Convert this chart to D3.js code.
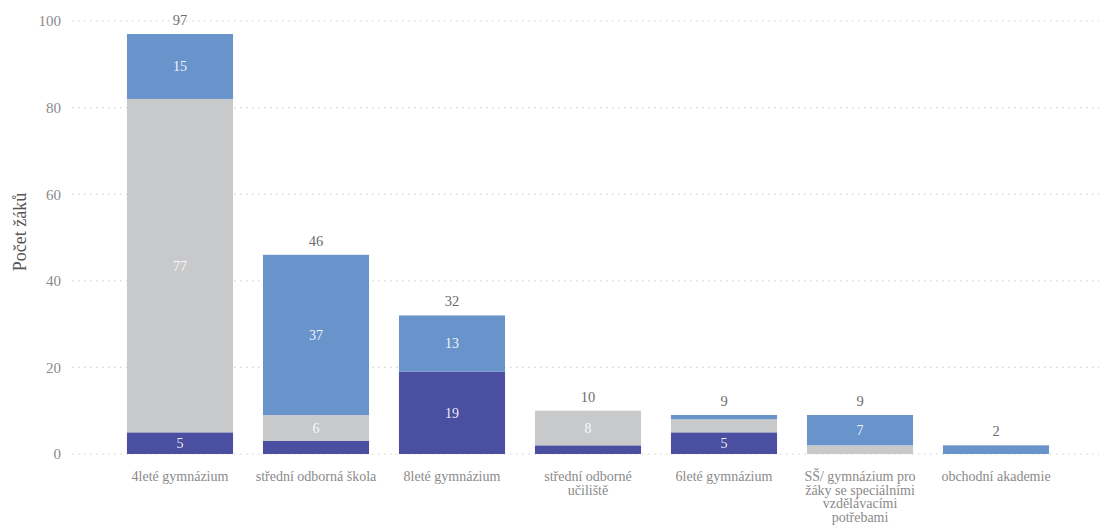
<!DOCTYPE html>
<html>
<head>
<meta charset="utf-8">
<script src="https://cdn.jsdelivr.net/npm/d3@7"></script>
<style>
  html, body { margin: 0; padding: 0; background: #fff; }
  svg { display: block; font-family: "Liberation Serif", "DejaVu Serif", serif; }
  svg text { font-family: "Liberation Serif", "DejaVu Serif", serif; }
</style>
</head>
<body>
<svg id="chart" width="1099" height="530"></svg>
<script>
// School types (each entry is the list of label lines under the bar)
const categories = [
  ["4leté gymnázium"],
  ["střední odborná škola"],
  ["8leté gymnázium"],
  ["střední odborné", "učiliště"],
  ["6leté gymnázium"],
  ["SŠ/ gymnázium pro", "žáky se speciálními", "vzdělávacími", "potřebami"],
  ["obchodní akademie"]
];

// Stacked series, bottom to top
const lowerValues  = [5, 3, 19, 2, 5, 0, 0];
const middleValues = [77, 6, 0, 8, 3, 2, 0];
const upperValues  = [15, 37, 13, 0, 1, 7, 2];

const seriesKeys   = ["lower", "middle", "upper"];
const seriesColors = ["#4b4fa2", "#c8c9cb", "#6993cb"];

const yTicks = [0, 20, 40, 60, 80, 100];
const yTitle = "Počet žáků";

// Build rows for d3.stack
const rows = categories.map((c, i) => ({
  idx: i,
  lower: lowerValues[i],
  middle: middleValues[i],
  upper: upperValues[i]
}));
const totals = rows.map(r => r.lower + r.middle + r.upper);

const svg = d3.select("#chart");
const gridLeft = 72, gridRight = 1099;
const x = d3.scaleBand()
  .domain(d3.range(categories.length))
  .range([112, 1064])
  .paddingInner(0.22)
  .paddingOuter(0.11);
const y = d3.scaleLinear().domain([0, 100]).range([454, 21]);

// Dotted horizontal grid
svg.append("g")
  .selectAll("line")
  .data(yTicks)
  .join("line")
  .attr("x1", gridLeft)
  .attr("x2", gridRight)
  .attr("y1", d => y(d))
  .attr("y2", d => y(d))
  .attr("stroke", "#d4d4d4")
  .attr("stroke-width", 1.2)
  .attr("stroke-dasharray", "1.5,4.5");

// Y axis tick labels
const yAxis = d3.axisLeft(y).tickValues(yTicks).tickSize(0).tickPadding(0);
const gy = svg.append("g").attr("transform", "translate(61,0)").call(yAxis);
gy.attr("font-family", null);
gy.select(".domain").remove();
gy.selectAll("text")
  .attr("font-size", 15)
  .attr("fill", "#8a8a8a");

// Y axis title
svg.append("text")
  .attr("transform", "translate(26,232) rotate(-90)")
  .attr("text-anchor", "middle")
  .attr("font-size", 18)
  .attr("fill", "#555")
  .text(yTitle);

// Stacked bars
const stacked = d3.stack().keys(seriesKeys)(rows);
const layers = svg.append("g")
  .selectAll("g")
  .data(stacked)
  .join("g")
  .attr("fill", (d, i) => seriesColors[i]);

layers.selectAll("rect")
  .data(d => d.filter(s => s[1] - s[0] > 0))
  .join("rect")
  .attr("x", d => x(d.data.idx))
  .attr("width", x.bandwidth())
  .attr("y", d => y(d[1]))
  .attr("height", d => y(d[0]) - y(d[1]));

// Segment value labels (only on segments tall enough)
layers.selectAll("text")
  .data(d => d.filter(s => s[1] - s[0] >= 5))
  .join("text")
  .attr("x", d => x(d.data.idx) + x.bandwidth() / 2)
  .attr("y", d => (y(d[0]) + y(d[1])) / 2)
  .attr("dy", "0.35em")
  .attr("text-anchor", "middle")
  .attr("font-size", 14)
  .attr("fill", "#ffffff")
  .attr("fill-opacity", 0.92)
  .text(d => d[1] - d[0]);

// Totals above bars
svg.append("g")
  .selectAll("text")
  .data(totals)
  .join("text")
  .attr("x", (d, i) => x(i) + x.bandwidth() / 2)
  .attr("y", d => y(d) - 9)
  .attr("text-anchor", "middle")
  .attr("font-size", 14.5)
  .attr("fill", "#6e6e6e")
  .text(d => d);

// Category labels
const xAxis = d3.axisBottom(x).tickSize(0).tickFormat(() => "");
const gx = svg.append("g").attr("transform", "translate(0,454)").call(xAxis);
gx.attr("font-family", null);
gx.select(".domain").remove();
gx.selectAll(".tick").each(function(i) {
  const t = d3.select(this).append("text")
    .attr("text-anchor", "middle")
    .attr("font-size", 14)
    .attr("fill", "#8a8a8a")
    .attr("y", 27);
  categories[i].forEach((line, k) => {
    t.append("tspan").attr("x", 0).attr("dy", k === 0 ? 0 : 13.5).text(line);
  });
});
</script>
</body>
</html>
